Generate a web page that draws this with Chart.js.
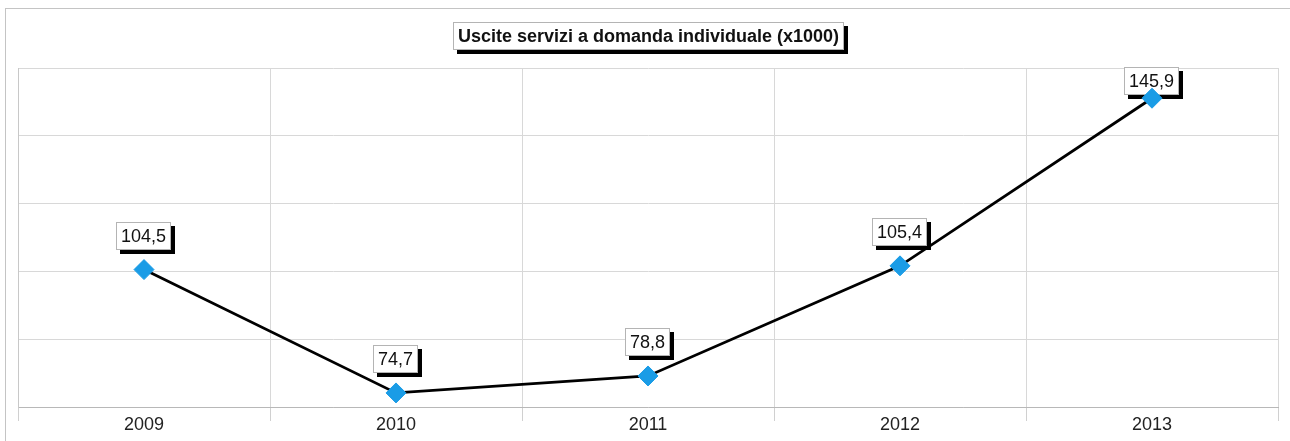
<!DOCTYPE html>
<html>
<head>
<meta charset="utf-8">
<title>Uscite servizi a domanda individuale</title>
<script src="https://cdn.jsdelivr.net/npm/chart.js@4.4.1/dist/chart.umd.min.js"></script>
<style>
  html, body { margin: 0; padding: 0; background: #fff; }
  #wrap { width: 1290px; height: 441px; }
</style>
</head>
<body>
<div id="wrap"><canvas id="myChart" width="1290" height="441"></canvas></div>
<script>
const titleText = "Uscite servizi a domanda individuale (x1000)";
const years = ["2009", "2010", "2011", "2012", "2013"];
const uscite = [104.5, 74.7, 78.8, 105.4, 145.9];
const yMin = 71.3;
const yMax = 153.2;

const FONT = "'Liberation Sans', Arial, sans-serif";

// boxed text with a hard black shadow, like the old spreadsheet labels
function shadowBox(ctx, text, cx, top, bold) {
  ctx.font = (bold ? "bold " : "") + "18px " + FONT;
  const w = Math.round(ctx.measureText(text).width) + 10;
  const h = 28;
  const left = Math.round(cx - w / 2);
  ctx.fillStyle = "#000";
  ctx.fillRect(left + 4, top + 4, w, h);
  ctx.fillStyle = "#fff";
  ctx.fillRect(left, top, w, h);
  ctx.strokeStyle = "#b4b4b4";
  ctx.lineWidth = 1;
  ctx.strokeRect(left + 0.5, top + 0.5, w - 1, h - 1);
  ctx.fillStyle = "#111";
  ctx.textAlign = "center";
  ctx.textBaseline = "middle";
  ctx.fillText(text, left + w / 2, top + h / 2 + 1);
}

const frame = {
  id: "frame",
  beforeDraw(chart) {
    const ctx = chart.ctx;
    ctx.save();
    ctx.strokeStyle = "#c4c4c4";
    ctx.lineWidth = 1;
    ctx.strokeRect(5.5, 8.5, 1400, 600);
    ctx.restore();
  },
  afterDraw(chart) {
    const a = chart.chartArea;
    const ctx = chart.ctx;
    ctx.save();
    shadowBox(ctx, titleText, (a.left + a.right) / 2, 22, true);
    ctx.restore();
  },
};

// value labels go under the line and markers
const valueLabels = {
  id: "valueLabels",
  beforeDatasetsDraw(chart) {
    const ctx = chart.ctx;
    const a = chart.chartArea;
    const meta = chart.getDatasetMeta(0);
    ctx.save();
    meta.data.forEach((pt, i) => {
      const txt = uscite[i].toFixed(1).replace(".", ",");
      let top = Math.round(pt.y) - 20 - 28;
      if (top < a.top - 1) top = a.top - 1;
      shadowBox(ctx, txt, pt.x - 1, top, false);
    });
    ctx.restore();
  },
};

const ctx = document.getElementById("myChart");
new Chart(ctx, {
  type: "line",
  data: {
    labels: years,
    datasets: [
      {
        data: uscite,
        borderColor: "#000",
        borderWidth: 2.8,
        tension: 0,
        pointStyle: "rectRot",
        pointRadius: 10,
        pointBorderWidth: 1,
        pointBackgroundColor: "#1a9ce6",
        pointBorderColor: "#1a9ce6",
      },
    ],
  },
  options: {
    responsive: false,
    animation: false,
    layout: { padding: { left: 18, right: 12, top: 68, bottom: 0 } },
    plugins: {
      legend: { display: false },
      tooltip: { enabled: false },
      title: { display: false },
    },
    scales: {
      x: {
        offset: true,
        grid: {
          offset: true,
          color: "#d8d8d8",
          tickLength: 14,
          tickColor: "#d0d0d0",
        },
        border: { color: "#b8b8b8" },
        ticks: {
          color: "#222",
          padding: -7,
          font: { family: FONT, size: 18 },
        },
        afterFit(scale) {
          scale.height = 34;
        },
      },
      y: {
        min: yMin,
        max: yMax,
        grid: { color: "#d8d8d8", drawTicks: false },
        border: { color: "#c8c8c8" },
        ticks: { display: false },
        afterBuildTicks(scale) {
          const step = (yMax - yMin) / 5;
          scale.ticks = [0, 1, 2, 3, 4, 5].map((k) => ({ value: yMin + k * step }));
        },
        afterFit(scale) {
          scale.width = 0;
        },
      },
    },
  },
  plugins: [frame, valueLabels],
});
</script>
</body>
</html>
